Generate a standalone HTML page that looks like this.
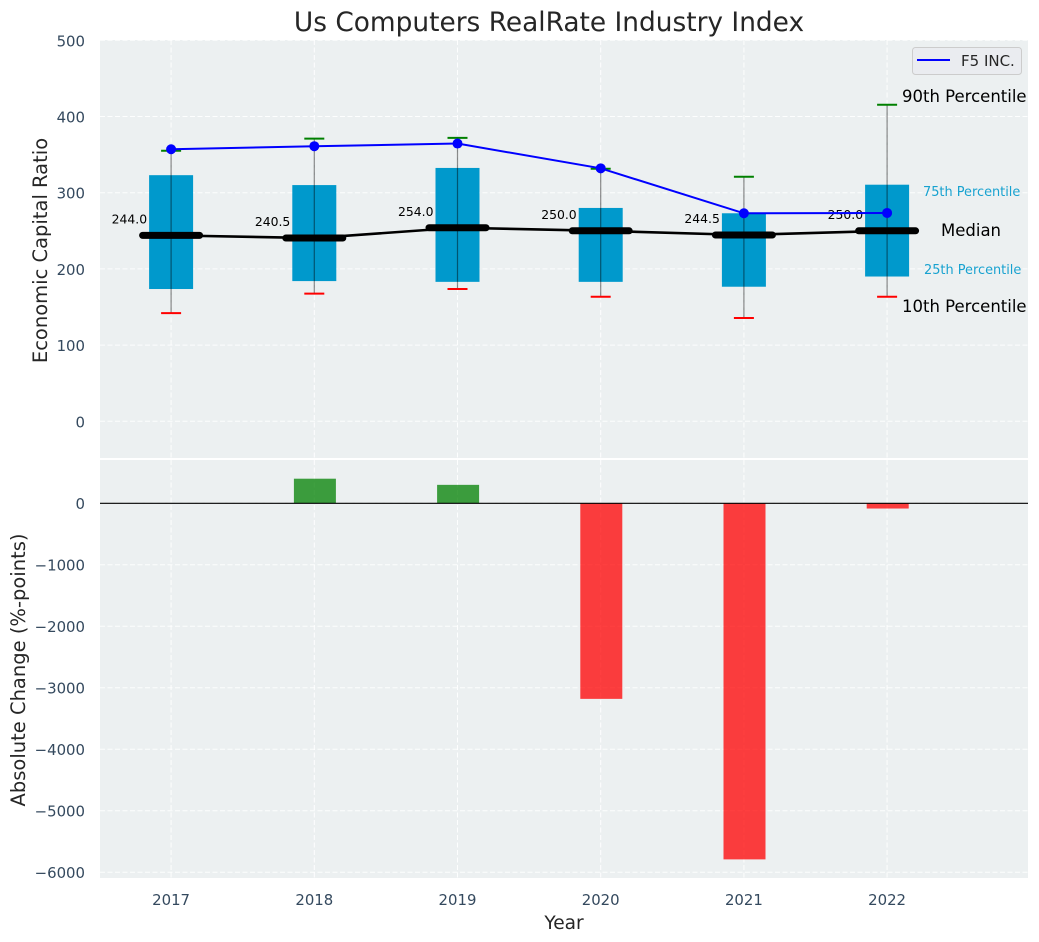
<!DOCTYPE html>
<html lang="en">
<head>
<meta charset="utf-8">
<title>Us Computers RealRate Industry Index</title>
<style>
html,body{margin:0;padding:0;background:#fff;}
svg{display:block;font-family:"DejaVu Sans","Liberation Sans",sans-serif;}
</style>
</head>
<body>
<svg id="chart" xmlns="http://www.w3.org/2000/svg" width="1039" height="942" viewBox="0 0 1039 942"></svg>
<script>
const years = [2017, 2018, 2019, 2020, 2021, 2022];
const p10 = [142, 167.5, 173.6, 163.5, 135.6, 163.5];
const p25 = [173.6, 184, 183, 183, 176.6, 190];
const medians = [244, 240.5, 254, 250, 244.5, 250];
const p75 = [323, 310, 332.5, 280, 273, 310.5];
const p90 = [355, 371, 372, 331.5, 321, 415.5];
const f5 = [357, 361, 364.5, 332, 273, 273.4];
const changes = [0, 400, 300, -3180, -5790, -85];
const topTicks = [0, 100, 200, 300, 400, 500];
const bottomTicks = [0, -1000, -2000, -3000, -4000, -5000, -6000];

const NS = 'http://www.w3.org/2000/svg';
const svg = document.getElementById('chart');
const LEFT = 100, RIGHT = 1028;
const TOP1 = 40, BOT1 = 458, TOP2 = 460, BOT2 = 878;
const xScale = v => 171.1 + (v - 2017) * 143.2;
const yTop = v => 421.3 - v * 0.762;
const yBot = v => 503.3 - v * 0.0615;

function make(tag, attrs, text) {
  const el = document.createElementNS(NS, tag);
  for (const k in attrs) el.setAttribute(k, attrs[k]);
  if (text !== undefined) el.textContent = text;
  svg.appendChild(el);
  return el;
}
function lineEl(x1, y1, x2, y2, stroke, w, extra) {
  return make('line', Object.assign({x1, y1, x2, y2, stroke, 'stroke-width': w}, extra || {}));
}
const GRID = {'stroke-dasharray': '5 2.5', 'stroke-opacity': 0.9};
const TICK = '#34495e';
let el;

el = make('rect', {x: LEFT, y: TOP1, width: RIGHT - LEFT, height: BOT1 - TOP1, fill: '#ecf0f1'});


el = make('rect', {x: LEFT, y: TOP2, width: RIGHT - LEFT, height: BOT2 - TOP2, fill: '#ecf0f1'});



years.forEach(yr => {
  const x = xScale(yr);
  el = lineEl(x, TOP1, x, BOT1, '#fff', 1, GRID);
  
  
  el = lineEl(x, TOP2, x, BOT2, '#fff', 1, GRID);
  
  
  el = make('text', {x: x, y: 905, 'text-anchor': 'middle', 'font-size': 14.9, fill: TICK}, String(yr));
  
  
});

topTicks.forEach(t => {
  const y = yTop(t);
  el = lineEl(LEFT, y, RIGHT, y, '#fff', 1, GRID);
  
  
  el = make('text', {x: 85, y: y + 6, 'text-anchor': 'end', 'font-size': 14.9, fill: TICK}, String(t));
  
  
});

bottomTicks.forEach(t => {
  const y = yBot(t);
  el = lineEl(LEFT, y, RIGHT, y, '#fff', 1, GRID);
  
  
  el = make('text', {x: 85, y: y + 5.5, 'text-anchor': 'end', 'font-size': 14.9, fill: TICK}, String(t).replace('-', '\u2212'));
  
  
});

/* box plot */
years.forEach((yr, i) => {
  const x = xScale(yr);
  el = make('rect', {x: x - 22, y: yTop(p75[i]), width: 44, height: yTop(p25[i]) - yTop(p75[i]), fill: '#0099cc'});
  
  
  el = lineEl(x, yTop(p10[i]), x, yTop(p90[i]), '#000', 1.2, {'stroke-opacity': 0.45});
  
  
  el = lineEl(x - 10, yTop(p90[i]), x + 10, yTop(p90[i]), '#008000', 2);
  
  
  el = lineEl(x - 10, yTop(p10[i]), x + 10, yTop(p10[i]), '#ff0000', 2);
  
  
});

/* median line */
el = make('polyline', {points: years.map((yr, i) => xScale(yr) + ',' + yTop(medians[i])).join(' '), fill: 'none', stroke: '#000', 'stroke-width': 2.6});


years.forEach((yr, i) => {
  const x = xScale(yr);
  const y = yTop(medians[i]);
  el = lineEl(x - 28.5, y, x + 28.5, y, '#000', 7, {'stroke-linecap': 'round'});
  
  
  el = make('text', {x: x - 24, y: y - 12, 'text-anchor': 'end', 'font-size': 12.4, fill: '#000'}, medians[i].toFixed(1));
  
  
});

/* F5 line */
el = make('polyline', {points: years.map((yr, i) => xScale(yr) + ',' + yTop(f5[i])).join(' '), fill: 'none', stroke: '#0000ff', 'stroke-width': 2});


years.forEach((yr, i) => {
  el = make('circle', {cx: xScale(yr), cy: yTop(f5[i]), r: 5, fill: '#0000ff'});
  
  
});

/* bars */
years.forEach((yr, i) => {
  if (changes[i] === 0) return;
  const y0 = yBot(0), y1 = yBot(changes[i]);
  el = make('rect', {x: xScale(yr) - 20.4, y: Math.min(y0, y1), width: 42, height: Math.abs(y1 - y0), fill: changes[i] > 0 ? '#008000' : '#ff0000', 'fill-opacity': 0.75});
  
  
});
el = lineEl(LEFT, yBot(0), RIGHT, yBot(0), '#000', 1.2);



/* percentile annotations */
el = make('text', {x: 902, y: 102, 'font-size': 16.5, fill: '#000'}, '90th Percentile');


el = make('text', {x: 902, y: 312, 'font-size': 16.5, fill: '#000'}, '10th Percentile');


el = make('text', {x: 941, y: 236, 'font-size': 16.5, fill: '#000'}, 'Median');


el = make('text', {x: 923, y: 196, 'font-size': 12.9, fill: '#0099cc', 'fill-opacity': 0.9}, '75th Percentile');


el = make('text', {x: 924, y: 274, 'font-size': 12.9, fill: '#0099cc', 'fill-opacity': 0.9}, '25th Percentile');



/* legend */
el = make('rect', {x: 912.5, y: 47.5, width: 109, height: 27, rx: 3, fill: '#eaecf0', stroke: '#cccccc', 'stroke-width': 1});


el = lineEl(917, 60, 950, 60, '#0000ff', 2);


el = make('text', {x: 961, y: 66, 'font-size': 15, fill: '#262626'}, 'F5 INC.');



/* titles */
el = make('text', {x: 549, y: 31, 'text-anchor': 'middle', 'font-size': 26.4, fill: '#262626'}, 'Us Computers RealRate Industry Index');


el = make('text', {x: 564, y: 929, 'text-anchor': 'middle', 'font-size': 18.6, fill: '#262626'}, 'Year');


el = make('text', {x: 47, y: 250.5, 'text-anchor': 'middle', 'font-size': 19.5, fill: '#262626', transform: 'rotate(-90 47 250.5)'}, 'Economic Capital Ratio');


el = make('text', {x: 25, y: 670, 'text-anchor': 'middle', 'font-size': 19.5, fill: '#262626', transform: 'rotate(-90 25 670)'}, 'Absolute Change (%-points)');


</script>
</body>
</html>
